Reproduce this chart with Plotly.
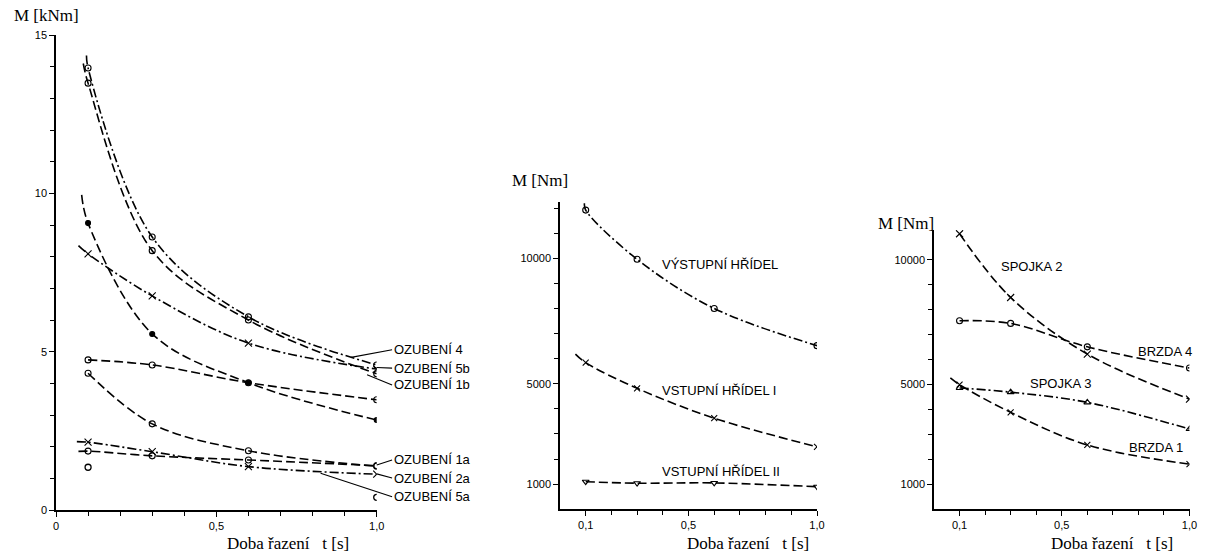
import plotly.graph_objects as go

W, H = 1205, 553

# ---------------- data ----------------
t_pts = [0.1, 0.3, 0.6, 1.0]          # shift times t [s] where points were measured

# Left panel: gearing torques M [kNm]
oz4 = [13.96, 8.62, 6.10, 4.58]
oz1b = [13.48, 8.19, 6.00, 4.30]
oz5b = [8.09, 6.76, 5.27, 4.45]
oz3 = [9.06, 5.56, 4.02, 2.84]
oz2b = [4.74, 4.58, 4.02, 3.48]
oz1a = [4.32, 2.72, 1.87, 1.38]
oz2a = [2.14, 1.84, 1.37, 1.13]
oz5a_curve = [1.86, 1.71, 1.58, 1.40]
oz5a_t = [0.1, 1.0]
oz5a_pts = [1.35, 0.40]

# where drawn curves begin left of the first measured point (t, M)
oz4_start = (0.095, 14.35)
oz1b_start = (0.085, 14.10)
oz5b_start = (0.07, 8.35)
oz3_start = (0.08, 9.95)
oz2a_start = (0.065, 2.16)
oz5a_start = (0.07, 1.85)

# Middle panel: shafts M [Nm]
vystupni = [11920, 9960, 8000, 6520]
vstupni1 = [5840, 4820, 3630, 2490]
vstupni2 = [1100, 1040, 1050, 900]
vystupni_start = (0.095, 12190)
vstupni1_start = (0.06, 6180)

# Right panel: clutches / brakes M [Nm]
spojka2 = [11050, 8490, 6220, 4410]
brzda4 = [7560, 7450, 6510, 5660]
spojka3 = [4860, 4690, 4280, 3210]
brzda1 = [4990, 3880, 2570, 1800]
brzda1_start = (0.064, 5260)

# ---------------- styling helpers ----------------
DASH = "9px,4px"
DASHDOT = "9px,3px,2px,3px"
SANS = "Liberation Sans, Arial, sans-serif"
SERIF = "Liberation Serif, Times New Roman, serif"

fig = go.Figure()


def add_series(name, vals, xa, ya, dash, symbol, start=None, msize=6):
    xs = list(t_pts)
    ys = list(vals)
    if start is not None:
        xs = [start[0]] + xs
        ys = [start[1]] + ys
    fig.add_trace(go.Scatter(x=xs, y=ys, mode="lines", name=name, xaxis=xa, yaxis=ya,
                             line=dict(color="black", width=1.6, dash=dash, shape="spline", smoothing=1.0),
                             showlegend=False, hoverinfo="skip"))
    fig.add_trace(go.Scatter(x=t_pts, y=vals, mode="markers", name=name, xaxis=xa, yaxis=ya,
                             marker=dict(symbol=symbol, size=msize, color="black",
                                         line=dict(color="black", width=1.1)),
                             showlegend=False))


# left
add_series("OZUBENÍ 4", oz4, "x", "y", DASHDOT, "circle-open", oz4_start)
add_series("OZUBENÍ 1b", oz1b, "x", "y", DASH, "circle-open", oz1b_start)
add_series("OZUBENÍ 5b", oz5b, "x", "y", DASHDOT, "x-thin-open", oz5b_start, msize=7)
add_series("OZUBENÍ 3", oz3, "x", "y", DASH, "circle", oz3_start, msize=5)
add_series("OZUBENÍ 2b", oz2b, "x", "y", DASH, "circle-open")
add_series("OZUBENÍ 1a", oz1a, "x", "y", DASH, "circle-open")
add_series("OZUBENÍ 2a", oz2a, "x", "y", DASHDOT, "x-thin-open", oz2a_start, msize=7)
add_series("OZUBENÍ 5a", oz5a_curve, "x", "y", DASH, "circle-open", oz5a_start)
fig.add_trace(go.Scatter(x=oz5a_t, y=oz5a_pts, mode="markers", name="OZUBENÍ 5a body",
                         xaxis="x", yaxis="y",
                         marker=dict(symbol="circle-open", size=6, color="black",
                                     line=dict(color="black", width=1.3)),
                         showlegend=False))

# middle
add_series("VÝSTUPNÍ HŘÍDEL", vystupni, "x2", "y2", DASHDOT, "circle-open", vystupni_start)
add_series("VSTUPNÍ HŘÍDEL I", vstupni1, "x2", "y2", DASH, "x-thin-open", vstupni1_start, msize=6)
add_series("VSTUPNÍ HŘÍDEL II", vstupni2, "x2", "y2", DASH, "triangle-down-open", msize=6)

# right
add_series("SPOJKA 2", spojka2, "x3", "y3", DASH, "x-thin-open", msize=7)
add_series("BRZDA 4", brzda4, "x3", "y3", DASH, "circle-open")
add_series("SPOJKA 3", spojka3, "x3", "y3", DASHDOT, "triangle-up-open")
add_series("BRZDA 1", brzda1, "x3", "y3", DASH, "x-thin-open", brzda1_start, msize=6)


def px_x(p):
    return p / W


def px_y(p):
    return 1 - p / H


axis_common = dict(showline=True, linecolor="black", linewidth=1.5, ticks="outside",
                   ticklen=5, tickwidth=1.2, tickcolor="black", showgrid=False,
                   zeroline=False, tickfont=dict(family=SANS, size=11, color="black"),
                   fixedrange=True, automargin=False)
minor_common = dict(ticks="outside", ticklen=4, tickwidth=1.2, tickcolor="black", showgrid=False)

fig.update_layout(
    width=W, height=H, paper_bgcolor="white", plot_bgcolor="white",
    margin=dict(l=0, r=0, t=0, b=0), showlegend=False,
    xaxis=dict(axis_common, domain=[px_x(56), px_x(376.7)], range=[0, 1.0], anchor="y",
               tickmode="array", tickvals=[0, 0.5, 1.0], ticktext=["0", "0,5", "1,0"],
               minor=dict(minor_common, tickvals=[0.1, 0.2, 0.3, 0.4, 0.6, 0.7, 0.8, 0.9])),
    yaxis=dict(axis_common, domain=[px_y(510), px_y(35)], range=[0, 15], anchor="x",
               tickmode="array", tickvals=[0, 5, 10, 15], ticktext=["0", "5", "10", "15"],
               minor=dict(minor_common, tickvals=[1, 2, 3, 4, 6, 7, 8, 9, 11, 12, 13, 14])),
    xaxis2=dict(axis_common, domain=[px_x(560), px_x(817)], range=[0, 1.0], anchor="y2",
                tickmode="array", tickvals=[0.1, 0.5, 1.0], ticktext=["0,1", "0,5", "1,0"],
                minor=dict(minor_common, tickvals=[0.2, 0.3, 0.4, 0.6, 0.7, 0.8, 0.9])),
    yaxis2=dict(axis_common, domain=[px_y(509.3), px_y(201.8)], range=[0, 12250], anchor="x2",
                tickmode="array", tickvals=[1000, 5000, 10000], ticktext=["1000", "5000", "10000"],
                minor=dict(minor_common, tickvals=[2000, 3000, 4000, 6000, 7000, 8000, 9000, 11000, 12000])),
    xaxis3=dict(axis_common, domain=[px_x(934), px_x(1189.5)], range=[0, 1.0], anchor="y3",
                tickmode="array", tickvals=[0.1, 0.5, 1.0], ticktext=["0,1", "0,5", "1,0"],
                minor=dict(minor_common, tickvals=[0.2, 0.3, 0.4, 0.6, 0.7, 0.8, 0.9])),
    yaxis3=dict(axis_common, domain=[px_y(509), px_y(230)], range=[0, 11200], anchor="x3",
                tickmode="array", tickvals=[1000, 5000, 10000], ticktext=["1000", "5000", "10000"],
                minor=dict(minor_common, tickvals=[2000, 3000, 4000, 6000, 7000, 8000, 9000])),
)

annots = []
lab_font = dict(family=SANS, size=13, color="black")
title_font = dict(family=SERIF, size=17, color="black")

# axis titles (paper coordinates)
gap = "\u00a0\u00a0\u00a0"
annots += [
    dict(text="M [kNm]", x=px_x(12), y=px_y(16), xref="paper", yref="paper",
         xanchor="left", yanchor="middle", showarrow=False, font=title_font),
    dict(text="M [Nm]", x=px_x(510), y=px_y(181), xref="paper", yref="paper",
         xanchor="left", yanchor="middle", showarrow=False, font=title_font),
    dict(text="M [Nm]", x=px_x(876), y=px_y(223), xref="paper", yref="paper",
         xanchor="left", yanchor="middle", showarrow=False, font=title_font),
]
for xl in (226, 686, 1050):
    annots.append(dict(text="Doba řazení" + gap + "t [s]", x=px_x(xl), y=px_y(543),
                       xref="paper", yref="paper", xanchor="left", yanchor="middle",
                       showarrow=False, font=title_font, borderpad=0))

# left-panel labels; (label, label M, arrow tip t, arrow tip M or None)
lab_x = 1.048
left_labels = [
    ("OZUBENÍ 4", 5.06, 0.92, 4.82),
    ("OZUBENÍ 5b", 4.48, 1.0, 4.50),
    ("OZUBENÍ 1b", 3.95, 0.97, 4.27),
    ("OZUBENÍ 2b", 3.42, None, None),
    ("OZUBENÍ 3", 2.84, None, None),
    ("OZUBENÍ 1a", 1.58, 1.0, 1.42),
    ("OZUBENÍ 2a", 1.01, 1.0, 1.14),
    ("OZUBENÍ 5a", 0.42, 0.825, 1.16),
]
for txt, ly, tx, ty in left_labels:
    if tx is None:
        annots.append(dict(text=txt, x=lab_x, y=ly, xref="x", yref="y", xanchor="left",
                           yanchor="middle", showarrow=False, font=lab_font))
    else:
        annots.append(dict(text=txt, x=tx, y=ty, ax=lab_x, ay=ly, xref="x", yref="y",
                           axref="x", ayref="y", xanchor="left", yanchor="middle",
                           showarrow=True, arrowhead=0, arrowwidth=1.1, arrowcolor="black",
                           standoff=0, startstandoff=0, font=lab_font))

mid_labels = [("VÝSTUPNÍ HŘÍDEL", 0.39, 9770), ("VSTUPNÍ HŘÍDEL I", 0.39, 4750),
              ("VSTUPNÍ HŘÍDEL II", 0.39, 1500)]
for txt, lx, ly in mid_labels:
    annots.append(dict(text=txt, x=lx, y=ly, xref="x2", yref="y2", xanchor="left",
                       yanchor="middle", showarrow=False, font=lab_font))

right_labels = [("SPOJKA 2", 0.255, 9730), ("BRZDA 4", 0.79, 6330),
                ("SPOJKA 3", 0.368, 5040), ("BRZDA 1", 0.754, 2470)]
for txt, lx, ly in right_labels:
    annots.append(dict(text=txt, x=lx, y=ly, xref="x3", yref="y3", xanchor="left",
                       yanchor="middle", showarrow=False, font=lab_font))

fig.update_layout(annotations=annots)

fig.write_html("out.html", config={"displayModeBar": False},
               post_script="document.body.style.margin='0';document.body.style.overflow='hidden';")
